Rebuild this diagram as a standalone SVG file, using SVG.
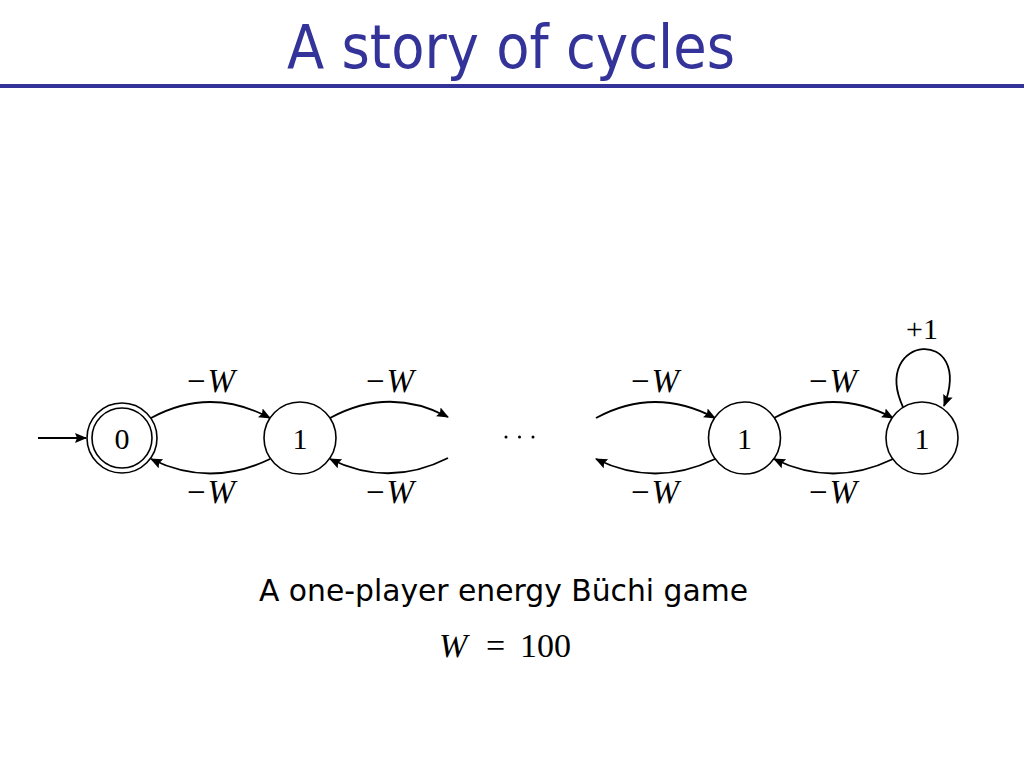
<svg xmlns="http://www.w3.org/2000/svg" width="1024" height="768" viewBox="0 0 1024 768">
<defs>
<style>
.title{font-family:"DejaVu Sans","Liberation Sans",sans-serif;fill:#333399;}
.sub{font-family:"DejaVu Sans","Liberation Sans",sans-serif;fill:#000;}
.m{font-family:"Liberation Serif","DejaVu Serif",serif;fill:#000;}
.it{font-style:italic;}
.node{fill:#fff;stroke:#000;stroke-width:1.6;}
.edge{fill:none;stroke:#000;stroke-width:1.8;marker-end:url(#arr);}
</style>
<marker id="arr" viewBox="0 0 12 10" refX="11" refY="5" markerWidth="12" markerHeight="10" markerUnits="userSpaceOnUse" orient="auto">
<path d="M0,0 L12,5 L0,10 L2,5 Z" fill="#000"/>
</marker>
</defs>
<rect width="1024" height="768" fill="#fff"/>
<text class="title" x="287" y="68" font-size="60" textLength="448" lengthAdjust="spacingAndGlyphs">A story of cycles</text>
<line x1="0" y1="86" x2="1024" y2="86" stroke="#333399" stroke-width="4"/>

<g id="connectors">
<path class="edge" d="M38,438 L86,438"/>
<path class="edge" d="M151,418 Q210,386 270,418"/>
<path class="edge" d="M330,418 Q389,386 448,417"/>
<path class="edge" d="M270,459 Q210,488 151,459"/>
<path class="edge" d="M448,458 Q389,488 330,459"/>
<path class="edge" d="M596,418 Q655,386 715,418"/>
<path class="edge" d="M774,418 Q833,386 893,418"/>
<path class="edge" d="M715,459 Q655,488 596,459"/>
<path class="edge" d="M893,459 Q833,488 774,459"/>
<path class="edge" d="M903,407 C870,335 975,325 944,406"/>
</g>

<g id="n0">
<circle class="node" cx="122" cy="438" r="35"/>
<circle class="node" cx="122" cy="438" r="30"/>
<text class="m" x="122" y="449" font-size="30" text-anchor="middle">0</text>
</g>
<g id="n1">
<circle class="node" cx="300" cy="438" r="36"/>
<text class="m" x="300" y="449" font-size="30" text-anchor="middle">1</text>
</g>
<g id="n2">
<circle class="node" cx="744.5" cy="438" r="36"/>
<text class="m" x="744.5" y="449" font-size="30" text-anchor="middle">1</text>
</g>
<g id="n3">
<circle class="node" cx="922" cy="438" r="36"/>
<text class="m" x="922" y="449" font-size="30" text-anchor="middle">1</text>
</g>

<g id="labels">
<text class="m" x="211" y="392" font-size="33" text-anchor="middle">−<tspan class="it" dx="2">W</tspan></text>
<text class="m" x="390" y="392" font-size="33" text-anchor="middle">−<tspan class="it" dx="2">W</tspan></text>
<text class="m" x="655" y="392" font-size="33" text-anchor="middle">−<tspan class="it" dx="2">W</tspan></text>
<text class="m" x="833" y="392" font-size="33" text-anchor="middle">−<tspan class="it" dx="2">W</tspan></text>
<text class="m" x="211" y="503" font-size="33" text-anchor="middle">−<tspan class="it" dx="2">W</tspan></text>
<text class="m" x="390" y="503" font-size="33" text-anchor="middle">−<tspan class="it" dx="2">W</tspan></text>
<text class="m" x="655" y="503" font-size="33" text-anchor="middle">−<tspan class="it" dx="2">W</tspan></text>
<text class="m" x="833" y="503" font-size="33" text-anchor="middle">−<tspan class="it" dx="2">W</tspan></text>
<text class="m" x="922" y="339" font-size="30" text-anchor="middle">+1</text>
<circle cx="506" cy="437" r="1.5" fill="#000"/>
<circle cx="519.5" cy="437" r="1.5" fill="#000"/>
<circle cx="533" cy="437" r="1.5" fill="#000"/>
</g>

<text class="sub" x="259" y="601" font-size="31" textLength="489" lengthAdjust="spacingAndGlyphs">A one-player energy Büchi game</text>
<text class="m" y="657" font-size="34"><tspan class="it" x="439">W</tspan><tspan x="486">=</tspan><tspan x="520">100</tspan></text>
</svg>
